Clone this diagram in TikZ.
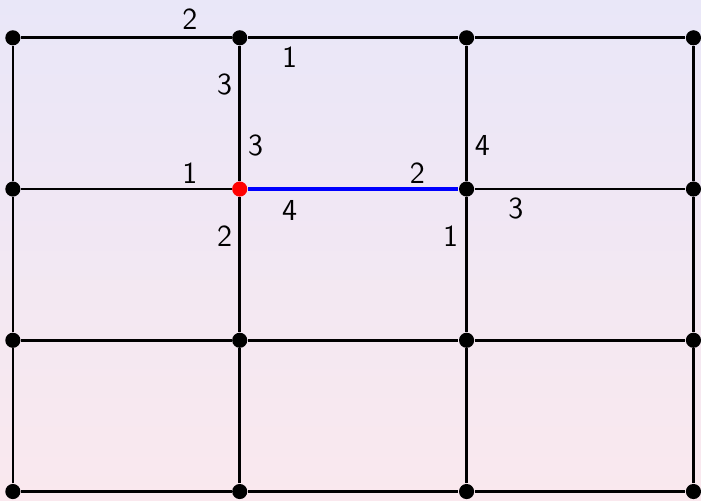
\documentclass[tikz,border=0pt]{standalone}
\usetikzlibrary{positioning}
\definecolor{bgtop}{RGB}{233,231,248}
\definecolor{bgbottom}{RGB}{250,232,238}
\begin{document}
\begin{tikzpicture}[
                vertex/.style={circle,fill=black,inner sep=0pt,minimum size=2mm},
                edge/.style={line width=1pt},
                port/.style={font=\sffamily\fontsize{11.5}{13}\selectfont,inner sep=0pt}
            ]

            \shade[top color=bgtop,bottom color=bgbottom] (-0.17,-0.12) rectangle (9.10,6.50);
            \useasboundingbox (-0.17,-0.12) rectangle (9.10,6.50);

            % grid
            \foreach \i in {0,...,3}
                \foreach \j in {0,...,3}{
                    \ifnum\i\j=12 \def\vcol{red}\else\def\vcol{black}\fi
                    \node[vertex,fill=\vcol] (v\i\j) at (3*\i,2*\j) {};
                }
            \foreach \i in {0,...,3}
                \foreach \j [count=\k] in {0,...,2}{
                    \draw[edge] (v\i\j) -- (v\i\k);
                    \draw[edge] (v\j\i) -- (v\k\i);
                }
            \draw[edge,blue,line width=1.8pt] (v12) -- (v22);

            % port numbers
            \node[port] (a1) at ([shift={(-0.66,0.24)}]v13) {2};
            \node[port] (a2) at ([shift={(0.66,-0.26)}]v13) {1};
            \node[port] (a3) at ([shift={(-0.20,-0.62)}]v13) {3};

            \node[port] (b1) at ([shift={(-0.66,0.21)}]v12) {1};
            \node[port] (b2) at ([shift={(0.21,0.57)}]v12) {3};
            \node[port] (b3) at ([shift={(0.66,-0.29)}]v12) {4};
            \node[port] (b4) at ([shift={(-0.20,-0.62)}]v12) {2};

            \node[port] (c1) at ([shift={(-0.65,0.21)}]v22) {2};
            \node[port] (c2) at ([shift={(0.21,0.57)}]v22) {4};
            \node[port] (c3) at ([shift={(0.65,-0.26)}]v22) {3};
            \node[port] (c4) at ([shift={(-0.21,-0.62)}]v22) {1};

        \end{tikzpicture}
\end{document}
